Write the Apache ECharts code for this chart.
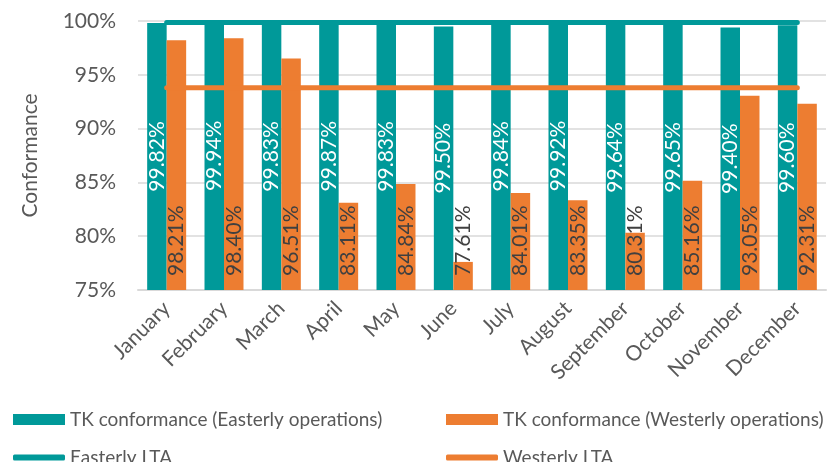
<!DOCTYPE html>
<html>
<head>
<meta charset="utf-8">
<script src="https://cdn.jsdelivr.net/npm/echarts@6/dist/echarts.min.js"></script>
<style>
  html, body { margin: 0; padding: 0; background: #fff; }
  #chart { width: 828px; height: 462px; }
</style>
</head>
<body>
<div id="chart"></div>
<script>
// months on the x axis
const months = ['January', 'February', 'March', 'April', 'May', 'June',
  'July', 'August', 'September', 'October', 'November', 'December']
// TK conformance, %
const easterly = [99.82, 99.94, 99.83, 99.87, 99.83, 99.50, 99.84, 99.92, 99.64, 99.65, 99.40, 99.60]
const westerly = [98.21, 98.40, 96.51, 83.11, 84.84, 77.61, 84.01, 83.35, 80.31, 85.16, 93.05, 92.31]
// long term averages (flat lines)
const easterlyLta = [99.86, 99.86, 99.86, 99.86, 99.86, 99.86, 99.86, 99.86, 99.86, 99.86, 99.86, 99.86]
const westerlyLta = [93.8, 93.8, 93.8, 93.8, 93.8, 93.8, 93.8, 93.8, 93.8, 93.8, 93.8, 93.8]
// y axis ticks
const yTicks = [75, 80, 85, 90, 95, 100]

const TEAL = '#009999'
const ORANGE = '#ed7d31'
const GREY = '#595959'
const FONT = 'Lato'

const chart = echarts.init(document.getElementById('chart'))

const pct = p => p.value.toFixed(2) + '%'

const legendItem = (name, left, top, icon, h) => ({
  left: left,
  top: top,
  data: [{ name: name, icon: icon }],
  itemWidth: 52,
  itemHeight: h,
  selectedMode: false,
  textStyle: { color: GREY, fontFamily: FONT, fontSize: 19 }
})

chart.setOption({
  animation: false,
  textStyle: { fontFamily: FONT },
  grid: { left: 138, right: 2, top: 21, bottom: 172 },
  legend: [
    legendItem('TK conformance (Easterly operations)', 8, 405, 'rect', 11),
    legendItem('TK conformance (Westerly operations)', 441, 405, 'rect', 11),
    legendItem('Easterly LTA', 8, 443, 'roundRect', 6),
    legendItem('Westerly LTA', 441, 443, 'roundRect', 6)
  ],
  xAxis: {
    type: 'category',
    data: months,
    axisTick: { show: false },
    axisLine: { lineStyle: { color: '#d9d9d9', width: 2 } },
    axisLabel: { rotate: 45, color: GREY, fontSize: 21, margin: 15, interval: 0 }
  },
  yAxis: {
    type: 'value',
    min: yTicks[0],
    max: yTicks[yTicks.length - 1],
    interval: yTicks[1] - yTicks[0],
    name: 'Conformance',
    nameLocation: 'middle',
    nameGap: 97,
    nameTextStyle: { color: GREY, fontSize: 21 },
    axisLine: { show: false },
    axisLabel: { color: GREY, fontSize: 21, margin: 22, formatter: '{value}%' },
    splitLine: { lineStyle: { color: '#d9d9d9', width: 1.5 } }
  },
  series: [
    {
      name: 'TK conformance (Easterly operations)',
      type: 'bar',
      data: easterly,
      barGap: '0%',
      barCategoryGap: '32%',
      itemStyle: { color: TEAL },
      label: {
        show: true,
        position: 'inside',
        rotate: 90,
        color: '#fff',
        fontSize: 21,
        formatter: pct
      }
    },
    {
      name: 'TK conformance (Westerly operations)',
      type: 'bar',
      data: westerly,
      itemStyle: { color: ORANGE },
      label: {
        show: true,
        position: 'insideBottom',
        rotate: 90,
        align: 'left',
        verticalAlign: 'middle',
        distance: 14,
        color: '#404040',
        fontSize: 21,
        formatter: pct
      }
    },
    {
      name: 'Easterly LTA',
      type: 'line',
      data: easterlyLta,
      symbol: 'none',
      lineStyle: { color: TEAL, width: 5, cap: 'round' },
      itemStyle: { color: TEAL },
      z: 3
    },
    {
      name: 'Westerly LTA',
      type: 'line',
      data: westerlyLta,
      symbol: 'none',
      lineStyle: { color: ORANGE, width: 5, cap: 'round' },
      itemStyle: { color: ORANGE },
      z: 3
    }
  ]
})
</script>
</body>
</html>
